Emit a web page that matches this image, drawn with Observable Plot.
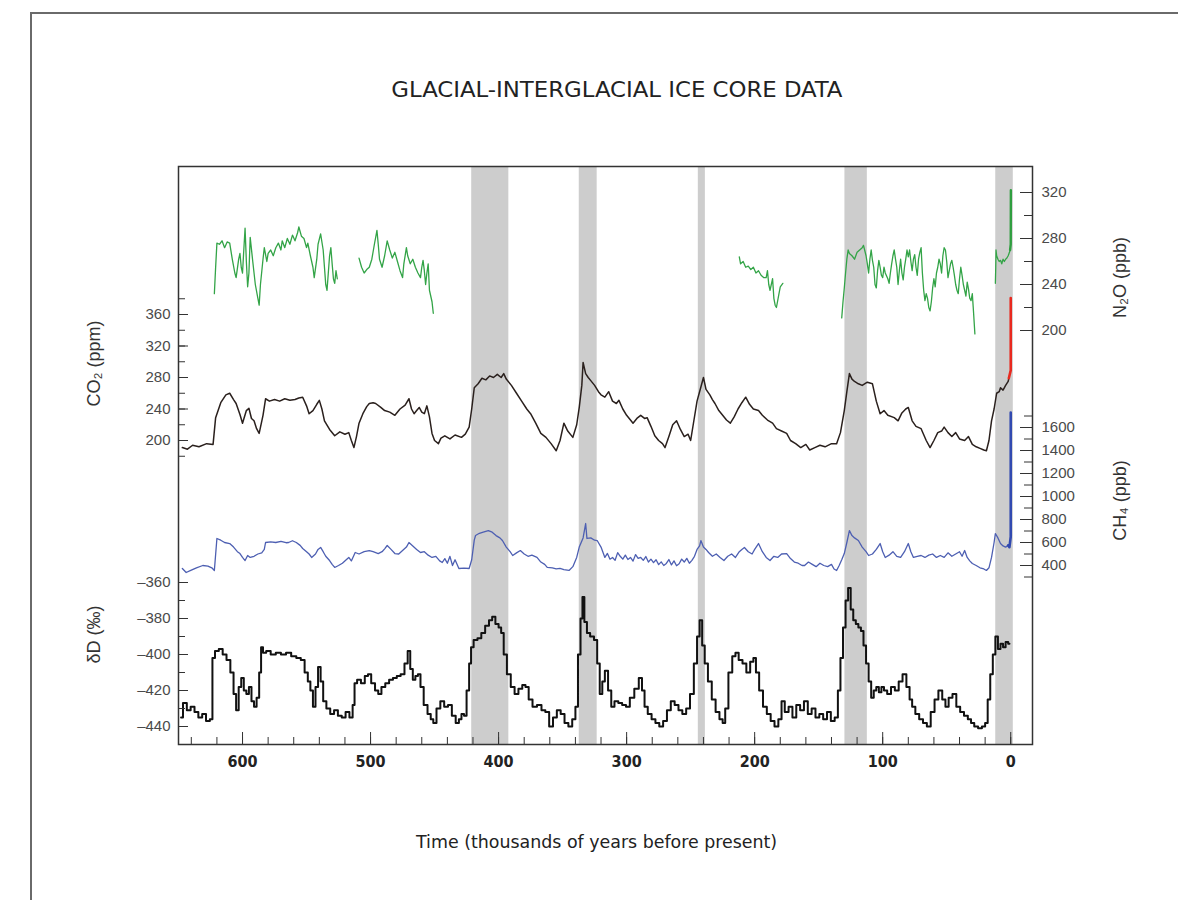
<!DOCTYPE html>
<html><head><meta charset="utf-8">
<script src="https://cdn.jsdelivr.net/npm/d3@7"></script>
<script src="https://cdn.jsdelivr.net/npm/@observablehq/plot@0.6"></script>
<style>
html,body{margin:0;padding:0;background:#fff;}
body{width:1178px;height:900px;overflow:hidden;position:relative;}
#frame{position:absolute;left:30px;top:12px;width:1300px;height:1000px;border-left:2px solid #6a6a6a;border-top:2px solid #6a6a6a;}
.fit{position:absolute;left:0;text-align:center;white-space:nowrap;font-family:"DejaVu Sans Condensed","Liberation Sans Narrow","Liberation Sans",sans-serif;color:#222;}
.fit span{display:inline-block;transform-origin:50% 50%;}
#title{top:77px;width:1234px;font-size:22px;line-height:26px;}
#xlabel{top:831px;width:1194px;font-size:17px;line-height:22px;}
#chart{position:absolute;left:0;top:130px;}
</style></head>
<body>
<div id="frame"></div>
<div id="title" class="fit"><span data-w="451">GLACIAL-INTERGLACIAL ICE CORE DATA</span></div>
<div id="chart"></div>
<div id="xlabel" class="fit"><span data-w="361">Time (thousands of years before present)</span></div>
<script>
// ---------- data (age in thousands of years before present) ----------
const interglacialStart = [421, 337, 244, 129.5, 11.7];
const interglacialEnd   = [392, 323, 238.5, 112, -2];

const co2Age = [647,643,639,634,628,623,621,617,613,610,607,605,602,600,597,595,593,591,589,587,584,582,579,575,571,567,563,559,556,553,550,548,545,542,540,538,536,532,528,524,520,517,515,513,511,509,506,503,501,498,496,492,489,485,481,477,473,470,468,466,464,462,460,458,456,454,452,450,447,445,442,438,434,429,426,423,421,419,416,413,410,407,404,401,398,396,394,390,386,382,378,375,371,367,363,359,355,352,349,346,342,339,337,335,334,332,330,328,325,322,320,317,314,311,308,306,303,300,297,295,292,289,286,284,281,278,275,272,270,267,264,261,258,255,252,250,248,245,242,240,238,235,233,231,228,225,222,219,216,213,210,207,204,201,197,194,190,186,183,179,175,172,168,164,160,157,153,149,145,140,136,133,130,128,126,124,122,119,116,112,108,105,102,99,96,91,88,85,82,80,77,74,70,66,63,60,57,54,52,49,46,43,40,36,33,30,27,24,21,19,17,15,13,11,9,8,6,4,2,1.5];
const co2Ppm = [191,189,194,192,196,195,229,248,258,260,252,247,233,222,238,241,228,225,215,209,232,253,250,252,250,253,251,252,254,255,244,234,238,246,251,240,225,214,206,211,208,210,200,191,205,222,234,243,247,248,247,242,238,236,232,240,245,253,240,234,238,242,236,234,244,230,209,200,196,203,206,202,207,204,208,217,240,267,272,279,277,282,280,284,280,285,278,270,260,250,240,234,222,209,204,196,187,200,222,212,204,220,242,270,299,285,280,276,270,262,258,255,262,250,247,251,240,232,226,222,228,232,228,229,218,206,200,196,191,205,220,225,214,205,208,200,220,250,268,280,265,258,252,247,238,232,226,222,230,240,248,255,246,240,238,232,226,222,215,212,209,200,196,191,195,188,191,194,192,196,196,210,238,262,285,278,275,272,270,274,272,250,234,238,232,229,225,235,240,242,225,218,215,200,191,200,210,212,217,210,205,210,202,200,205,195,192,190,188,187,200,225,240,260,262,267,264,270,275,279];
const co2ModernAge = [1.5, 0, 0];
const co2ModernPpm = [279, 289, 381];

const ch4Age = [647,644,640,636,631,627,624,622,620,617,614,610,607,604,602,600,598,596,594,591,588,585,583,582,578,574,570,566,564,561,558,555,553,550,548,546,543,541,539,537,535,532,530,528,525,522,519,517,515,512,509,505,501,498,494,491,489,487,484,481,478,475,472,470,467,464,461,458,455,452,449,446,444,442,440,438,436,434,431,427,423,421,419,418,415,412,408,405,402,399,397,394,391,389,386,383,380,377,374,370,367,364,362,358,355,352,349,345,342,339,337,334,332,331,328,325,323,320,317,315,313,311,309,307,305,303,301,299,297,295,293,291,289,287,285,283,281,279,277,275,273,271,269,267,265,263,261,259,257,255,253,251,249,247,245,243,242,240,238,236,233,230,227,224,221,218,215,212,210,208,205,202,200,197,194,191,188,185,182,179,175,172,169,166,163,161,158,155,152,149,146,143,140,138,136,134,132,130,128,126,124,122,119,116,113,111,108,105,102,100,98,95,92,89,86,83,80,78,76,73,70,67,64,61,58,55,52,49,46,43,40,38,36,34,32,30,27,24,21,19,17,15,13,12,10,8,6,4,2];
const ch4Ppb = [374,339,360,380,400,395,380,357,635,620,600,591,560,520,504,470,443,487,470,480,500,510,540,600,605,600,610,598,600,615,600,575,548,520,500,470,500,540,557,520,480,443,410,383,400,420,450,470,440,513,500,520,530,520,504,520,545,574,540,504,500,530,560,600,570,540,513,520,490,470,480,440,426,460,420,480,400,450,374,378,374,450,620,661,680,690,704,690,660,640,617,560,520,487,510,530,500,480,490,470,430,410,383,380,370,375,365,357,390,470,560,640,765,635,640,620,617,560,470,505,455,470,445,512,480,455,490,452,470,438,495,462,470,445,478,430,455,425,450,408,432,400,418,452,405,440,398,415,455,430,462,420,445,480,540,570,617,560,540,513,480,500,470,443,480,500,470,520,540,557,520,500,540,591,520,470,443,480,470,500,504,460,430,420,400,400,430,410,390,420,400,390,410,370,357,400,450,504,600,704,660,640,617,560,520,487,500,540,591,520,470,490,520,480,470,520,591,520,470,480,487,470,490,500,470,487,470,510,480,500,520,480,530,470,440,417,400,380,370,357,380,470,600,678,640,591,570,560,575];
const ch4ModernAge = [2, 1, 0, 0];
const ch4ModernPpb = [575, 560, 650, 1730];

const dDAge = [648,645,642,639,636,633,630,627,624,623,620,617,614,611,608,606,604,602,600,598,596,594,592,590,588,586,585,583,580,576,572,568,564,560,556,553,550,548,546,544,542,540,538,536,533,530,527,524,521,518,515,513,512,509,506,503,501,498,495,493,490,487,484,481,478,475,472,470,468,466,464,462,460,457,454,452,450,447,444,441,438,435,432,430,428,426,424,422,421,418,415,412,409,406,404,401,399,397,395,392,389,386,383,380,378,375,372,368,365,362,359,356,353,350,347,344,341,339,337,335,334,332,330,327,324,322,320,318,316,313,311,308,305,302,299,296,292,289,287,285,282,279,276,273,270,267,264,261,258,255,252,249,246,244,242,240,238,235,232,229,226,224,222,219,216,214,211,208,205,202,200,198,195,192,189,186,183,180,178,175,172,169,166,163,160,157,154,151,148,145,142,139,136,134,132,130,128,126,124,122,120,118,116,114,112,110,108,106,104,102,100,98,95,92,89,86,83,80,78,76,73,70,67,64,61,58,55,52,50,47,44,41,38,35,32,30,27,24,21,19,17,15,13,11,9,7,5,3,1];
const dDPermil = [-435,-427,-431,-429,-432,-435,-433,-437,-436,-402,-398,-397,-400,-403,-410,-422,-431,-418,-413,-420,-422,-418,-426,-429,-424,-410,-396,-399,-398,-400,-399,-400,-399,-401,-402,-403,-410,-415,-420,-429,-418,-407,-415,-426,-430,-433,-431,-434,-435,-432,-435,-428,-416,-414,-416,-412,-411,-416,-420,-422,-418,-416,-414,-413,-412,-411,-405,-398,-408,-414,-412,-411,-418,-428,-433,-436,-438,-430,-426,-429,-428,-434,-438,-436,-433,-434,-420,-405,-396,-392,-391,-388,-384,-381,-379,-383,-385,-388,-400,-411,-418,-422,-419,-417,-418,-425,-429,-428,-431,-432,-440,-435,-431,-433,-438,-440,-436,-429,-400,-380,-368,-382,-388,-390,-392,-405,-422,-415,-409,-420,-429,-426,-427,-428,-429,-424,-419,-413,-420,-429,-433,-436,-438,-440,-437,-431,-426,-428,-431,-433,-430,-422,-405,-390,-381,-395,-405,-415,-425,-432,-436,-438,-430,-410,-401,-399,-403,-405,-410,-404,-402,-410,-420,-429,-433,-437,-440,-436,-426,-432,-429,-435,-428,-431,-426,-433,-430,-435,-433,-436,-432,-437,-435,-420,-402,-385,-370,-363,-375,-381,-383,-385,-387,-395,-405,-415,-424,-420,-418,-421,-418,-420,-422,-418,-420,-415,-411,-418,-425,-429,-433,-436,-438,-440,-432,-425,-420,-425,-429,-424,-422,-429,-432,-434,-436,-438,-440,-441,-440,-438,-425,-411,-400,-390,-397,-394,-396,-393,-394];

const n2oAge = [622,621,620,618,616,614,612,610,608,606,605,603,602,601,600,599,598,597,596,595,594,592,590,588,587,586,584,583,581,580,578,576,574,572,570,569,567,565,563,561,559,557,556,554,552,550,549,547,545,544,542,541,539,537,536,535,534,533,532,531,530,529,528,527,526,518,509,507,505,503,501,499,497,495,494,493,491,489,487,485,483,481,479,477,475,474,472,471,469,467,465,463,461,460,459,458,457,456,455,454,452,451,330,212,211,209,207,205,203,201,199,197,195,193,191,190,189,188,186,185,184,183,181,180,178,150,132,131,130,129,128,127,126,124,122,120,118,116,115,113,112,111,110,109,108,107,106,105,104,103,102,101,100,99,98,96,95,94,93,92,91,90,89,88,87,86,85,84,83,82,81,80,79,78,77,76,75,74,73,72,71,70,69,68,67,66,65,64,63,62,61,60,59,58,57,56,55,54,53,52,51,50,49,48,47,46,45,44,43,42,41,40,39,38,37,36,35,34,33,32,31,30,29,28,20,12,11.7,11.5,11,10,9,8,7,6,5,4,3,2,1,0.5];
const n2oPpb = [232,255,276,275,278,272,277,276,262,250,246,262,267,255,250,270,289,260,238,250,281,260,240,228,222,240,262,272,260,267,270,265,272,276,270,278,272,280,275,283,278,285,290,282,280,272,276,265,255,246,262,275,284,270,255,240,235,250,265,272,258,245,241,252,245,null,263,255,250,253,255,262,275,287,275,262,255,265,278,270,263,268,260,252,246,258,272,265,258,262,255,250,246,255,261,252,240,250,258,235,225,215,null,264,258,260,255,256,253,255,250,252,248,246,246,252,240,235,245,228,222,220,232,238,241,null,211,225,237,250,262,270,267,265,262,268,270,272,274,265,258,250,262,270,261,255,240,237,252,261,255,248,246,255,250,245,241,250,258,265,270,262,255,240,252,262,250,244,255,262,270,264,270,260,252,262,266,255,248,262,268,272,250,235,226,232,228,220,217,225,237,245,238,250,255,262,258,250,265,272,270,260,246,252,258,261,255,248,240,235,232,245,255,248,240,235,230,242,236,228,226,232,215,197,null,241,255,270,265,262,260,261,258,262,260,262,263,265,268,270];
const n2oModernAge = [0.5, 0, -0.1];
const n2oModernPpb = [270, 275, 322];

// axis tick values
const co2Minor = d3.range(180, 381, 20);
const co2Major = [200, 240, 280, 320, 360];
const dDMinor = d3.range(-440, -359, 10);
const dDMajor = [-440, -420, -400, -380, -360];
const n2oMinor = d3.range(200, 321, 20);
const n2oMajor = [200, 240, 280, 320];
const ch4Minor = d3.range(300, 1701, 100);
const ch4Major = [400, 600, 800, 1000, 1200, 1400, 1600];
const timeMinor = d3.range(0, 641, 20);
const timeMajor = [0, 100, 200, 300, 400, 500, 600];

// ---------- stacking: each quantity gets its own vertical band of a shared layout scale ----------
// layout scale runs from 744 (bottom of frame) to 166 (top of frame)
const co2Y = d3.scaleLinear([200, 360], [440, 314]);
const dDY  = d3.scaleLinear([-440, -360], [726, 582]);
const n2oY = d3.scaleLinear([200, 320], [330, 192]);
const ch4Y = d3.scaleLinear([400, 1600], [565, 427]);

const toRows = (ages, vals, f) => ages.map((a, i) => ({age: a, y: vals[i] == null ? NaN : f(vals[i])}));
const co2 = toRows(co2Age, co2Ppm, co2Y);
const co2m = toRows(co2ModernAge, co2ModernPpm, co2Y);
const ch4 = toRows(ch4Age, ch4Ppb, ch4Y);
const ch4m = toRows(ch4ModernAge, ch4ModernPpb, ch4Y);
const dD = toRows(dDAge, dDPermil, dDY);
const n2o = toRows(n2oAge, n2oPpb, n2oY);
const n2om = toRows(n2oModernAge, n2oModernPpb, n2oY);
const bands = interglacialStart.map((s, i) => ({start: s, end: interglacialEnd[i]}));

const tickText = "#4a4a4a";
const tickFont = "'Liberation Sans', Arial, sans-serif";
function leftAxis(major, minor, f) {
  return [
    Plot.axisY({anchor: "left", ticks: minor.map(f), tickSize: 7, dx: 7, tickFormat: () => "", label: null, stroke: "#333"}),
    Plot.axisY({anchor: "left", ticks: major.map(f), tickSize: 10, dx: 10, tickFormat: () => "", label: null, stroke: "#333"}),
    Plot.axisY({anchor: "left", ticks: major.map(f), tickSize: 0, tickPadding: 8, tickFormat: d => String(Math.round(f.invert(d))).replace("-", "\u2013"), label: null, fill: tickText, fontSize: 15, fontFamily: tickFont})
  ];
}
function rightAxis(major, minor, f) {
  return [
    Plot.axisY({anchor: "right", ticks: minor.map(f), tickSize: 9, dx: -9, tickFormat: () => "", label: null, stroke: "#333"}),
    Plot.axisY({anchor: "right", ticks: major.map(f), tickSize: 13, dx: -13, tickFormat: () => "", label: null, stroke: "#333"}),
    Plot.axisY({anchor: "right", ticks: major.map(f), tickSize: 0, tickPadding: 9, tickFormat: d => String(Math.round(f.invert(d))), label: null, fill: tickText, fontSize: 15, fontFamily: tickFont})
  ];
}

const chart = Plot.plot({
  width: 1178,
  height: 730,
  marginTop: 36,
  marginBottom: 116,
  marginLeft: 178,
  marginRight: 146,
  style: {fontFamily: "'Liberation Sans', Arial, sans-serif", fontSize: "13px", background: "transparent"},
  x: {domain: [650, -17]},
  y: {domain: [744, 166]},
  marks: [
    Plot.rect(bands, {x1: "start", x2: "end", fill: "#cdcdcd"}),
    Plot.line(n2o, {x: "age", y: "y", stroke: "#33a447", strokeWidth: 1.3}),
    Plot.line(n2om, {x: "age", y: "y", stroke: "#2f9e3f", strokeWidth: 2.4}),
    Plot.line(co2, {x: "age", y: "y", stroke: "#2a201d", strokeWidth: 1.5}),
    Plot.line(co2m, {x: "age", y: "y", stroke: "#e8291f", strokeWidth: 2.6}),
    Plot.line(ch4, {x: "age", y: "y", stroke: "#4d5fb2", strokeWidth: 1.3}),
    Plot.line(ch4m, {x: "age", y: "y", stroke: "#3149b0", strokeWidth: 2.6}),
    Plot.line(dD, {x: "age", y: "y", stroke: "#111", strokeWidth: 2, curve: "step"}),
    Plot.frame({stroke: "#333", strokeWidth: 1.5}),
    Plot.axisX({anchor: "bottom", ticks: timeMinor, tickSize: 7, dy: -7, tickFormat: () => "", label: null, stroke: "#333"}),
    Plot.axisX({anchor: "bottom", ticks: timeMajor, tickSize: 12, dy: -12, tickFormat: () => "", label: null, stroke: "#333"}),
    Plot.axisX({anchor: "bottom", ticks: timeMajor, tickSize: 0, tickPadding: 11, tickFormat: d => String(d), label: null, fill: "#222", fontSize: 16, fontWeight: "bold", fontFamily: "'DejaVu Sans Condensed', 'Liberation Sans Narrow', sans-serif"}),
    ...leftAxis(co2Major, co2Minor, co2Y),
    ...leftAxis(dDMajor, dDMinor, dDY),
    ...rightAxis(n2oMajor, n2oMinor, n2oY),
    ...rightAxis(ch4Major, ch4Minor, ch4Y),
    Plot.text(["CO\u2082 (ppm)"], {frameAnchor: "left", y: [363], dx: -84, rotate: -90, textAnchor: "middle", fontSize: 18, fill: "#333"}),
    Plot.text(["\u03B4D (\u2030)"], {frameAnchor: "left", y: [634], dx: -84, rotate: -90, textAnchor: "middle", fontSize: 18, fill: "#333"}),
    Plot.text(["N\u2082O (ppb)"], {frameAnchor: "right", y: [277], dx: 88, rotate: -90, textAnchor: "middle", fontSize: 18, fill: "#333"}),
    Plot.text(["CH\u2084 (ppb)"], {frameAnchor: "right", y: [500], dx: 88, rotate: -90, textAnchor: "middle", fontSize: 18, fill: "#333"})
  ]
});
document.getElementById("chart").appendChild(chart);

// stretch the condensed title and caption to the reference widths
document.querySelectorAll(".fit span").forEach(s => {
  const w = s.getBoundingClientRect().width;
  const target = +s.dataset.w;
  if (w > 0) s.style.transform = `scaleX(${target / w})`;
});
</script>
</body></html>
